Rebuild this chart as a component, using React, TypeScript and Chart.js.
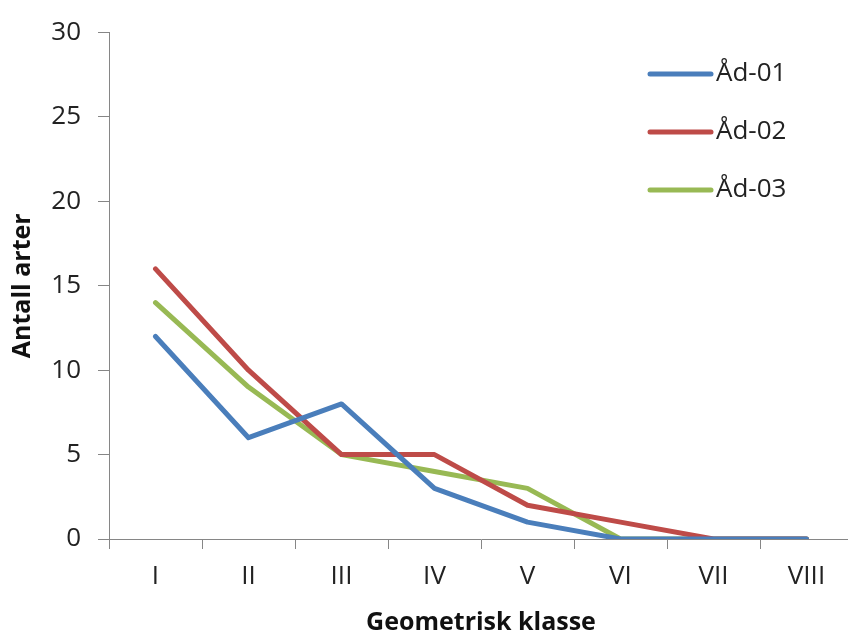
import React, { useEffect, useRef } from "react";
import { Chart, registerables } from "chart.js";

Chart.register(...registerables);

const categories = ["I", "II", "III", "IV", "V", "VI", "VII", "VIII"];
const seriesNames = ["Åd-01", "Åd-02", "Åd-03"];
const ad01 = [12, 6, 8, 3, 1, 0, 0, 0];
const ad02 = [16, 10, 5, 5, 2, 1, 0, 0];
const ad03 = [14, 9, 5, 4, 3, 0, 0, 0];
const colors = ["#4A7EBB", "#BE4B48", "#98B954"];
const yTicks = [0, 5, 10, 15, 20, 25, 30];

const FONT = "'Open Sans', 'DejaVu Sans', sans-serif";

const legendPlugin = {
  id: "insideLegend",
  afterDraw(chart: any) {
    const ctx = chart.ctx;
    ctx.save();
    chart.data.datasets.forEach((ds: any, i: number) => {
      const y = 74 + i * 58;
      ctx.strokeStyle = ds.borderColor;
      ctx.lineWidth = 5;
      ctx.lineCap = "round";
      ctx.beginPath();
      ctx.moveTo(650, y);
      ctx.lineTo(711, y);
      ctx.stroke();
      ctx.fillStyle = "#222";
      ctx.font = `26px ${FONT}`;
      ctx.textAlign = "left";
      ctx.textBaseline = "middle";
      ctx.fillText(ds.label, 716, y);
    });
    ctx.restore();
  },
};

export default function App() {
  const ref = useRef<HTMLCanvasElement>(null);
  useEffect(() => {
    if (!ref.current) return;
    const data = [ad01, ad02, ad03];
    const chart = new Chart(ref.current, {
      type: "line",
      data: {
        labels: categories,
        datasets: seriesNames.map((name, i) => ({
          label: name,
          data: data[i],
          borderColor: colors[i],
          backgroundColor: colors[i],
          borderWidth: 5,
          pointRadius: 0,
          tension: 0,
          borderJoinStyle: "round" as const,
          borderCapStyle: "round" as const,
        })),
      },
      options: {
        animation: false,
        responsive: false,
        layout: { padding: { top: 26, right: 7, left: 0, bottom: 0 } },
        plugins: { legend: { display: false }, tooltip: { enabled: false } },
        scales: {
          x: {
            offset: true,
            grid: {
              offset: true,
              drawOnChartArea: false,
              drawTicks: true,
              tickLength: 10,
              color: "#868686",
            },
            border: { color: "#868686", width: 1 },
            ticks: {
              color: "#222",
              font: { family: FONT, size: 26 },
              padding: 12,
              maxRotation: 0,
              autoSkip: false,
            },
            title: {
              display: true,
              text: "Geometrisk klasse",
              color: "#111",
              font: { family: FONT, size: 25, weight: "bold", lineHeight: 1.1 },
              padding: 0,
            },
            afterFit(scale: any) {
              scale.height = 98;
            },
          },
          y: {
            min: 0,
            max: 30,
            afterBuildTicks(scale: any) {
              scale.ticks = yTicks.map((v) => ({ value: v }));
            },
            grid: {
              drawOnChartArea: false,
              drawTicks: true,
              tickLength: 11,
              color: "#868686",
            },
            border: { color: "#868686", width: 1 },
            ticks: {
              color: "#222",
              font: { family: FONT, size: 26 },
              padding: 17,
            },
            title: {
              display: true,
              text: "Antall arter",
              color: "#111",
              font: { family: FONT, size: 25, weight: "bold", lineHeight: 1.2 },
              padding: 8,
            },
            afterFit(scale: any) {
              scale.width = 109;
            },
          },
        },
      },
      plugins: [legendPlugin],
    });
    return () => chart.destroy();
  }, []);
  return (
    <div
      style={{
        position: "fixed",
        left: 0,
        top: 0,
        width: 848,
        height: 637,
        overflow: "hidden",
        background: "#fff",
      }}
    >
      <canvas ref={ref} width={860} height={637} style={{ display: "block" }} />
    </div>
  );
}
